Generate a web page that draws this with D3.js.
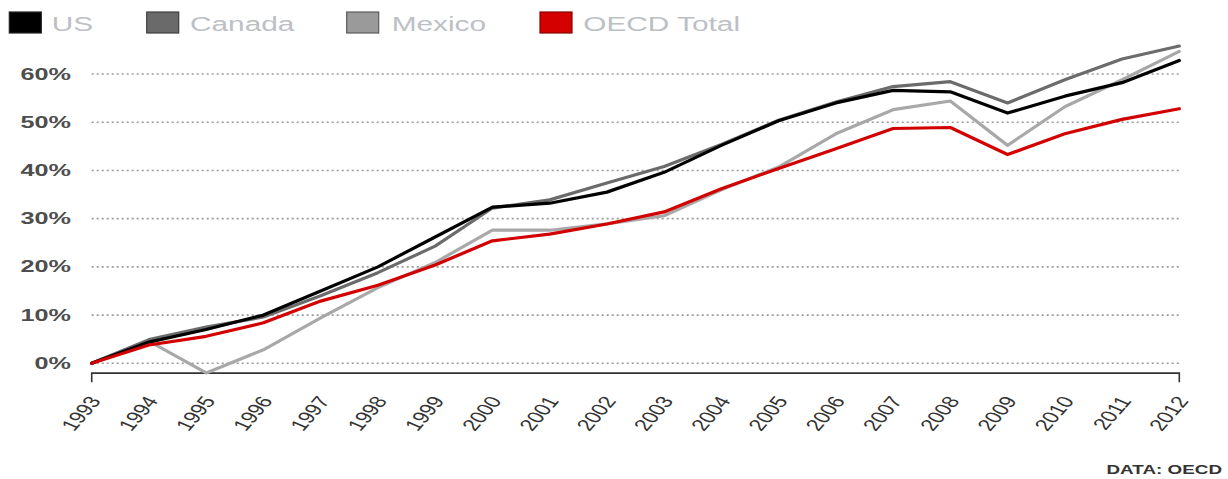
<!DOCTYPE html>
<html>
<head>
<meta charset="utf-8">
<script src="https://cdn.jsdelivr.net/npm/d3@7"></script>
<style>
  html, body { margin: 0; padding: 0; background: #fff; }
  svg { display: block; }
  text { font-family: "Liberation Sans", Arial, Helvetica, sans-serif; }
</style>
</head>
<body>
<svg id="chart" width="1228" height="479"></svg>
<script>
const years = [1993,1994,1995,1996,1997,1998,1999,2000,2001,2002,2003,2004,2005,2006,2007,2008,2009,2010,2011,2012];
const usValues     = [0, 4.4, 7.0, 10.0, 15.0, 20.0, 26.2, 32.4, 33.2, 35.5, 39.6, 45.2, 50.3, 54.0, 56.6, 56.3, 51.9, 55.4, 58.2, 62.8];
const canadaValues = [0, 4.9, 7.5, 9.6, 14.0, 18.8, 24.3, 32.2, 33.9, 37.4, 40.8, 45.4, 50.4, 54.2, 57.4, 58.4, 54.0, 58.8, 63.1, 65.8];
const mexicoValues = [0, 4.6, -2.0, 2.8, 9.4, 15.7, 20.9, 27.6, 27.6, 28.9, 30.6, 36.0, 40.7, 47.6, 52.6, 54.4, 45.2, 53.2, 58.8, 64.7];
const oecdValues   = [0, 3.8, 5.6, 8.4, 12.9, 16.2, 20.4, 25.4, 26.8, 28.9, 31.4, 36.2, 40.4, 44.5, 48.7, 48.9, 43.3, 47.6, 50.6, 52.8];
const seriesNames  = ["US", "Canada", "Mexico", "OECD Total"];
const yTickValues  = [0, 10, 20, 30, 40, 50, 60];
const sourceText   = "DATA: OECD";

const lineColors   = {"US": "#000000", "Canada": "#6b6b6b", "Mexico": "#a8a8a8", "OECD Total": "#d20000"};
const swatchFill   = {"US": "#000000", "Canada": "#6a6a6a", "Mexico": "#9a9a9a", "OECD Total": "#d40000"};
const swatchStroke = {"US": "#222222", "Canada": "#3f3f3f", "Mexico": "#5a5a5a", "OECD Total": "#8a0000"};

const series = [
  {name: "Mexico", values: mexicoValues},
  {name: "Canada", values: canadaValues},
  {name: "US", values: usValues},
  {name: "OECD Total", values: oecdValues}
];

const svg = d3.select("#chart");
const STRETCH = 1.42;

const x = d3.scaleLinear().domain([1993, 2012]).range([91.7, 1179.3]);
const y = d3.scaleLinear().domain([0, 60]).range([363.3, 74]);
const yMin = d3.min([usValues, canadaValues, mexicoValues, oecdValues].flat());

// gridlines
svg.append("g").selectAll("line").data(yTickValues).join("line")
  .attr("x1", x(1993)).attr("x2", x(2012))
  .attr("y1", d => y(d)).attr("y2", d => y(d))
  .attr("stroke", "#9a9a9a").attr("stroke-width", 1.6)
  .attr("stroke-dasharray", "2,3");

// y labels
svg.append("g").selectAll("text").data(yTickValues).join("text")
  .attr("transform", d => `translate(71,${y(d) + 5.5}) scale(1.5,1)`)
  .attr("text-anchor", "end")
  .attr("font-size", 16.8).attr("font-weight", "bold")
  .attr("fill", "#4d4d4d")
  .text(d => d + "%");

// x axis baseline with end ticks
const axisY = y(yMin) + 0.2;
svg.append("path")
  .attr("d", `M${x(1993)},${axisY + 9}V${axisY}H${x(2012)}V${axisY + 9}`)
  .attr("fill", "none").attr("stroke", "#333").attr("stroke-width", 1.6);

// x labels
svg.append("g").selectAll("text").data(years).join("text")
  .attr("transform", d => `translate(${x(d) + 10},${401}) scale(${STRETCH},1) rotate(-58)`)
  .attr("text-anchor", "end")
  .attr("font-size", 16.5)
  .attr("fill", "#333")
  .text(d => d);

// lines
const line = d3.line().x((d, i) => x(years[i])).y(d => y(d));
svg.append("g").selectAll("path").data(series).join("path")
  .attr("d", d => line(d.values))
  .attr("fill", "none")
  .attr("stroke", d => lineColors[d.name])
  .attr("stroke-width", 3.2)
  .attr("stroke-linejoin", "round")
  .attr("stroke-linecap", "round");

// legend
const legendSwatchX = [9.3, 146.7, 346.7, 540];
const legendTextX = [51.7, 190, 391.7, 583.3];
const lg = svg.append("g").selectAll("g").data(seriesNames).join("g");
lg.append("rect")
  .attr("x", (d, i) => legendSwatchX[i]).attr("y", 12)
  .attr("width", 32).attr("height", 21)
  .attr("fill", d => swatchFill[d])
  .attr("stroke", d => swatchStroke[d]).attr("stroke-width", 1.2);
lg.append("text")
  .attr("transform", (d, i) => `translate(${legendTextX[i]},31) scale(${STRETCH},1)`)
  .attr("font-size", 21)
  .attr("fill", "#bcc0c4")
  .text(d => d);

// source note
svg.append("text")
  .attr("transform", `translate(1222,474) scale(1.45,1)`)
  .attr("text-anchor", "end")
  .attr("font-size", 13).attr("font-weight", "bold")
  .attr("fill", "#333")
  .text(sourceText);
</script>
</body>
</html>
